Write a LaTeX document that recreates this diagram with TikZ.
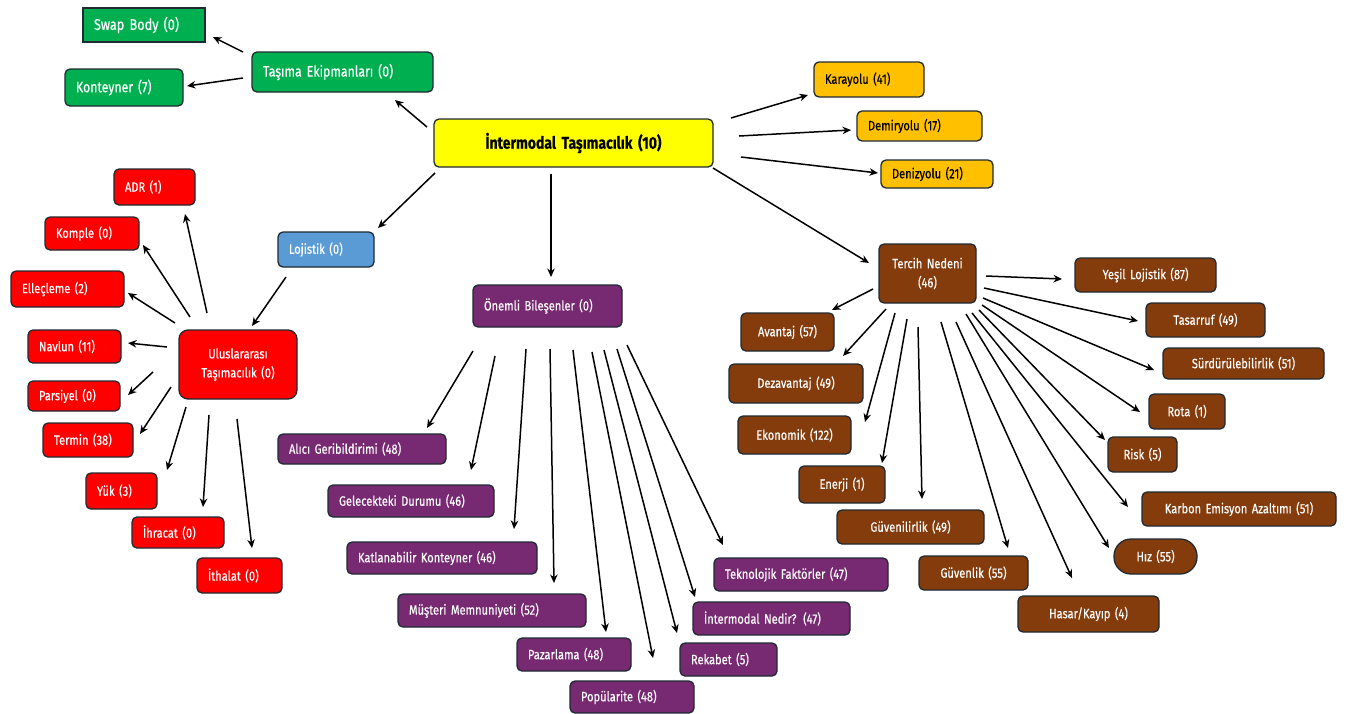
\documentclass[tikz,border=0pt]{standalone}
\usepackage{fontspec}
\newfontfamily\nf{Fira Sans}[FakeStretch=0.82,FakeBold=0.4]
\usetikzlibrary{arrows.meta}
\definecolor{cgreen}{HTML}{00B050}
\definecolor{cyellow}{HTML}{FFFF00}
\definecolor{corange}{HTML}{FFC000}
\definecolor{cblue}{HTML}{5B9BD5}
\definecolor{cred}{HTML}{FF0000}
\definecolor{cpurple}{HTML}{772A72}
\definecolor{cbrown}{HTML}{843C0C}
\definecolor{cborder}{HTML}{1F2A33}
\newcommand\BX[7]{%
  \pgfmathsetmacro\bxw{#5-#3}\pgfmathsetmacro\bxh{#6-#4}%
  \pgfmathsetmacro\bxcx{(#3+#5)/2}\pgfmathsetmacro\bxcy{(#4+#6)/2}%
  \pgfmathsetmacro\bxtw{\bxw-22}%
  \node[box,minimum width=\bxw pt,minimum height=\bxh pt,text width=\bxtw pt,#2] (#1) at (\bxcx,\bxcy) {#7};}
\newcommand\CN[6]{\draw[arr] ([shift={(#2,#3)}]#1.center) -- ([shift={(#5,#6)}]#4.center);}
\begin{document}
\begin{tikzpicture}[x=1pt,y=-1pt,
  box/.style={draw=cborder,line width=1.3pt,rounded corners=5pt,inner xsep=11pt,inner ysep=0pt,
    font={\nf\fontsize{13.5}{19}\selectfont},text=white},
  lft/.style={align=left},
  ctr/.style={align=center},
  gr/.style={fill=cgreen,lft,font={\nf\fontsize{15}{19}\selectfont}},
  ye/.style={fill=cyellow,text=black,ctr,font={\nf\bfseries\fontsize{17}{19}\selectfont}},
  orr/.style={fill=corange,text=black,lft},
  bl/.style={fill=cblue,lft},
  rd/.style={fill=cred,lft},
  pu/.style={fill=cpurple,lft},
  br/.style={fill=cbrown,ctr},
  arr/.style={-{Stealth[length=8.5pt,width=7.5pt]},line width=1.5pt,black}]
\useasboundingbox (0,0) rectangle (1346,713);
\fill[white] (0,0) rectangle (1346,713);
% green
\BX{swap}{gr,sharp corners,font={\nf\fontsize{15.5}{19}\selectfont}}{83}{8}{205}{42}{Swap Body (0)}
\BX{tasima}{gr}{252}{52}{433}{92}{Taşıma Ekipmanları (0)}
\BX{kont}{gr}{65}{69}{183}{106}{Konteyner (7)}
% center
\BX{im}{ye}{434}{119}{713}{167}{İntermodal Taşımacılık (10)}
% orange
\BX{kara}{orr}{814}{62}{924}{97}{\raisebox{-3pt}{Karayolu (41)}}
\BX{demir}{orr}{857}{111}{982}{141}{\raisebox{-3pt}{Demiryolu (17)}}
\BX{deniz}{orr}{881}{160}{993}{188}{\raisebox{-5pt}{Denizyolu (21)}}
% blue
\BX{loj}{bl}{278}{232}{374}{267}{Lojistik (0)}
% red
\BX{ulus}{rd,ctr,rounded corners=9pt}{179}{330}{297}{399}{Uluslararası\\Taşımacılık (0)}
\BX{adr}{rd}{114}{169}{195}{205}{ADR (1)}
\BX{komple}{rd}{45}{217}{139}{250}{Komple (0)}
\BX{ellec}{rd}{11}{271}{124}{307}{Elleçleme (2)}
\BX{navlun}{rd}{28}{330}{121}{363}{Navlun (11)}
\BX{pars}{rd}{28}{381}{120}{411}{Parsiyel (0)}
\BX{termin}{rd}{43}{423}{133}{457}{Termin (38)}
\BX{yuk}{rd}{86}{473}{157}{509}{Yük (3)}
\BX{ihr}{rd}{132}{517}{224}{548}{İhracat (0)}
\BX{ith}{rd}{197}{558}{282}{593}{İthalat (0)}
% purple
\BX{onem}{pu}{473}{285}{622}{327}{Önemli Bileşenler (0)}
\BX{alici}{pu}{278}{434}{446}{464}{Alıcı Geribildirimi (48)}
\BX{gelec}{pu}{328}{485}{494}{517}{Gelecekteki Durumu (46)}
\BX{katl}{pu}{347}{542}{537}{574}{Katlanabilir Konteyner (46)}
\BX{must}{pu}{398}{594}{586}{627}{Müşteri Memnuniyeti (52)}
\BX{pazar}{pu}{517}{638}{631}{671}{Pazarlama (48)}
\BX{popul}{pu}{570}{681}{694}{713}{Popülarite (48)}
\BX{tekno}{pu}{714}{558}{888}{591}{Teknolojik Faktörler (47)}
\BX{nedir}{pu}{693}{602}{850}{635}{İntermodal Nedir? (47)}
\BX{rekabet}{pu}{680}{643}{777}{676}{Rekabet (5)}
% brown
\BX{tercih}{br}{879}{244}{976}{303}{Tercih Nedeni\\(46)}
\BX{yesil}{br}{1075}{258}{1216}{292}{Yeşil Lojistik (87)}
\BX{tasar}{br}{1146}{303}{1265}{337}{Tasarruf (49)}
\BX{surd}{br}{1163}{348}{1324}{379}{Sürdürülebilirlik (51)}
\BX{rota}{br}{1149}{394}{1225}{429}{Rota (1)}
\BX{risk}{br}{1108}{437}{1177}{472}{Risk (5)}
\BX{karbon}{br}{1142}{492}{1336}{526}{Karbon Emisyon Azaltımı (51)}
\BX{hiz}{br,rounded corners=17pt}{1114}{539}{1197}{574}{Hız (55)}
\BX{hasar}{br}{1018}{596}{1159}{632}{Hasar/Kayıp (4)}
\BX{guvenlik}{br}{919}{556}{1028}{590}{Güvenlik (55)}
\BX{guvenilir}{br}{837}{510}{984}{544}{Güvenilirlik (49)}
\BX{enerji}{br}{799}{466}{885}{503}{Enerji (1)}
\BX{ekon}{br}{738}{416}{851}{454}{Ekonomik (122)}
\BX{dezav}{br}{729}{364}{863}{403}{Dezavantaj (49)}
\BX{avantaj}{br}{741}{313}{834}{351}{Avantaj (57)}
% connectors
\CN{im}{-146.5}{-16}{tasima}{52.5}{28}
\CN{tasima}{-99.5}{-20}{swap}{69}{12}
\CN{tasima}{-99.5}{6}{kont}{63}{-1.5}
\CN{im}{157.5}{-25}{kara}{-61}{15.5}
\CN{im}{165.5}{-7}{demir}{-68.5}{4}
\CN{im}{167.5}{14}{deniz}{-59}{-1}
\CN{im}{139.5}{25}{tercih}{-58.5}{-10.5}
\CN{im}{-22.5}{31}{onem}{3.5}{-29}
\CN{im}{-138.5}{30}{loj}{52}{-21.5}
\CN{loj}{-40}{27.5}{ulus}{14}{-38.5}
\CN{ulus}{-31}{-51.5}{adr}{30.5}{27}
\CN{ulus}{-48}{-47.5}{komple}{51}{11.5}
\CN{ulus}{-63}{-41.5}{ellec}{60.5}{4}
\CN{ulus}{-71}{-17.5}{navlun}{53.5}{-3.5}
\CN{ulus}{-85}{7.5}{pars}{54}{-1}
\CN{ulus}{-67}{22.5}{termin}{52}{-6}
\CN{ulus}{-52}{42.5}{yuk}{45.5}{-21}
\CN{ulus}{-29}{50.5}{ihr}{25}{-25.5}
\CN{ulus}{-1}{54.5}{ith}{12.5}{-27.5}
\CN{onem}{-74.5}{45}{alici}{65}{-21}
\CN{onem}{-52.5}{50}{gelec}{60}{-31}
\CN{onem}{-21.5}{43}{katl}{72}{-29}
\CN{onem}{2.5}{43}{must}{62}{-27.5}
\CN{onem}{25.5}{44}{pazar}{32}{-22.5}
\CN{onem}{44.5}{46}{popul}{21}{-39}
\CN{onem}{56.5}{44}{rekabet}{-51.5}{-26.5}
\CN{onem}{69.5}{43}{nedir}{-76.5}{-21.5}
\CN{onem}{79.5}{39}{tekno}{-78}{-29.5}
\CN{tercih}{-54.5}{15.5}{avantaj}{44.5}{-22}
\CN{tercih}{-41.5}{35.5}{dezav}{47}{-27.5}
\CN{tercih}{-32.5}{39.5}{ekon}{70.5}{-13}
\CN{tercih}{-20.5}{45.5}{enerji}{40}{-21.5}
\CN{tercih}{-9.5}{53.5}{guvenilir}{11.5}{-28}
\CN{tercih}{13.5}{48.5}{guvenlik}{34.5}{-25}
\CN{tercih}{28.5}{48.5}{hasar}{-16.5}{-36}
\CN{tercih}{38.5}{40.5}{hiz}{-46.5}{-8.5}
\CN{tercih}{44.5}{39.5}{karbon}{-111}{-2}
\CN{tercih}{51.5}{36.5}{risk}{-37.5}{-14.5}
\CN{tercih}{54.5}{31.5}{rota}{-47}{0.5}
\CN{tercih}{55.5}{24.5}{surd}{-89.5}{6.5}
\CN{tercih}{56.5}{14.5}{tasar}{-67.5}{1}
\CN{tercih}{58.5}{2.5}{yesil}{-83.5}{4}
\end{tikzpicture}
\end{document}
